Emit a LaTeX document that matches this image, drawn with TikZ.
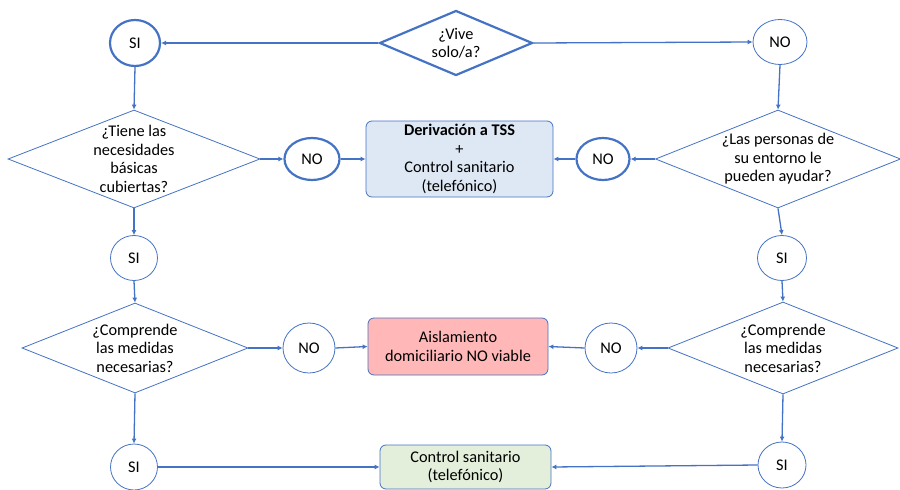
\documentclass[tikz,border=0pt]{standalone}
\usepackage{fontspec}
\setmainfont{Carlito}
\usetikzlibrary{shapes.geometric,arrows.meta}
\definecolor{lblue}{HTML}{4472C4}
\definecolor{boxblue}{HTML}{DEE7F4}
\definecolor{boxpink}{HTML}{FFB7B7}
\definecolor{boxgreen}{HTML}{E3EFDB}
\tikzset{
  txt/.style={font=\fontsize{16.3}{18.5}\selectfont, align=center, text=black},
  qthin/.style={diamond, draw=lblue, line width=0.8pt, inner sep=0pt},
  qthick/.style={diamond, draw=lblue, line width=2.2pt, inner sep=0pt},
  ovthin/.style={ellipse, draw=lblue, line width=0.8pt, inner sep=0pt, txt},
  ovthick/.style={ellipse, draw=lblue, line width=2.2pt, inner sep=0pt, txt},
  rbox/.style={rectangle, rounded corners=6pt, draw=lblue, line width=0.8pt, inner sep=0pt, txt},
  conn/.style={draw=lblue, line width=1.3pt, -{Latex[length=5pt,width=5pt]}},
}
\begin{document}
\begin{tikzpicture}[x=1pt,y=-1pt]
\useasboundingbox (0,0) rectangle (900,490);
% decisions
\node[qthick, minimum width=153, minimum height=65, label={[txt]center:¿Vive\\solo/a?}] (vive) at (456,43) {};
\node[qthin, minimum width=252, minimum height=98, label={[txt]center:¿Tiene las\\necesidades\\básicas\\cubiertas?}] (tiene) at (134,159) {};
\node[qthin, minimum width=245, minimum height=98, label={[txt]center:¿Las personas de\\su entorno le\\pueden ayudar?}] (personas) at (778,159) {};
\node[qthin, minimum width=226, minimum height=90, label={[txt]center:¿Comprende\\las medidas\\necesarias?}] (compL) at (135,348) {};
\node[qthin, minimum width=230, minimum height=92, label={[txt]center:¿Comprende\\las medidas\\necesarias?}] (compR) at (783,348) {};
% answers
\node[ovthick, minimum width=50, minimum height=46] (si1) at (135,43) {SI};
\node[ovthin, minimum width=54, minimum height=45] (no1) at (780,42) {NO};
\node[ovthick, minimum width=55, minimum height=42] (noL2) at (312,159) {NO};
\node[ovthick, minimum width=53, minimum height=42] (noR2) at (603,159) {NO};
\node[ovthin, minimum width=47, minimum height=45] (siL2) at (134,258) {SI};
\node[ovthin, minimum width=49, minimum height=45] (siR2) at (782,258) {SI};
\node[ovthin, minimum width=52, minimum height=50] (noL3) at (309,348) {NO};
\node[ovthin, minimum width=52, minimum height=50] (noR3) at (611,348) {NO};
\node[ovthin, minimum width=47, minimum height=46] (siL4) at (134,467) {SI};
\node[ovthin, minimum width=48, minimum height=46] (siR4) at (782,465) {SI};
% outcomes
\node[rbox, fill=boxblue, minimum width=187, minimum height=76] (deriv) at (459.5,159) {\textbf{Derivación a TSS}\\+\\Control sanitario\\(telefónico)};
\node[rbox, fill=boxpink, minimum width=180, minimum height=57] (aisl) at (458,346.5) {Aislamiento\\domiciliario NO viable};
\node[rbox, fill=boxgreen, minimum width=171, minimum height=44] (ctrl) at (465.5,467) {Control sanitario\\(telefónico)};
% connectors
\draw[conn] (vive.west) -- (si1.east);
\draw[conn] (vive.east) -- (no1.west);
\draw[conn] (si1.south) -- (tiene.north);
\draw[conn] (no1.south) -- (personas.north);
\draw[conn] (tiene.east) -- (noL2.west);
\draw[conn] (noL2.east) -- (deriv.west);
\draw[conn] (personas.west) -- (noR2.east);
\draw[conn] (noR2.west) -- (deriv.east);
\draw[conn] (tiene.south) -- (siL2.north);
\draw[conn] (siL2.south) -- (compL.north);
\draw[conn] (personas.south) -- (siR2.north);
\draw[conn] (siR2.south) -- (compR.north);
\draw[conn] (compL.east) -- (noL3.west);
\draw[conn] (noL3.east) -- (aisl.west);
\draw[conn] (compR.west) -- (noR3.east);
\draw[conn] (noR3.west) -- (aisl.east);
\draw[conn] (compL.south) -- (siL4.north);
\draw[conn] (siL4.east) -- (ctrl.west);
\draw[conn] (compR.south) -- (siR4.north);
\draw[conn] (siR4.west) -- (ctrl.east);
\end{tikzpicture}
\end{document}
